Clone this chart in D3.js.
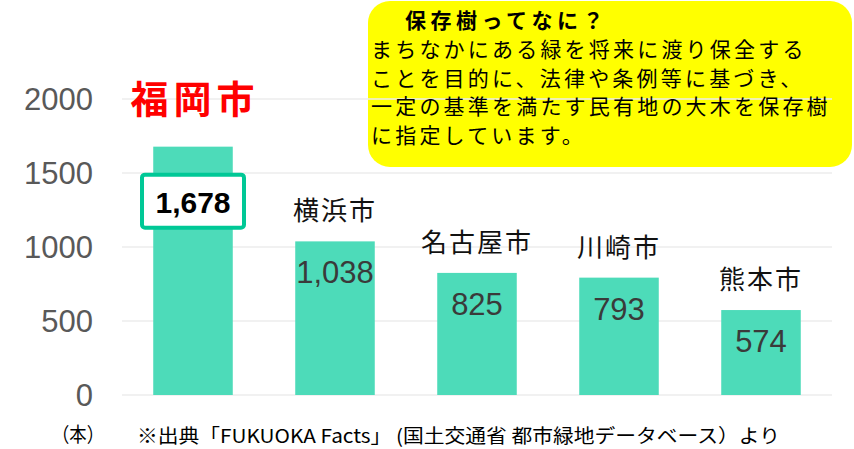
<!DOCTYPE html>
<html>
<head>
<meta charset="utf-8">
<script src="https://cdn.jsdelivr.net/npm/d3@7"></script>
<style>
  body { margin: 0; background: #fff; }
  svg { display: block; }
</style>
</head>
<body>
<div id="chart"></div>
<script>
// data
var cities = ["福岡市", "横浜市", "名古屋市", "川崎市", "熊本市"];
var trees  = [1678, 1038, 825, 793, 574];
var yTicks = [0, 500, 1000, 1500, 2000];
var noteTitle = "保存樹ってなに？";
var noteLines = [
  "まちなかにある緑を将来に渡り保全する",
  "ことを目的に、法律や条例等に基づき、",
  "一定の基準を満たす民有地の大木を保存樹",
  "に指定しています。"
];
var unitLabel = "（本）";
var sourceText = "※出典「FUKUOKA  Facts」 (国土交通省  都市緑地データベース）より";

var width = 854, height = 449;
var jp = "'Noto Sans CJK JP', sans-serif",
    num = "'Liberation Sans', Arial, sans-serif";

var svg = d3.select("#chart").append("svg")
    .attr("width", width)
    .attr("height", height);

var x = d3.scaleBand()
    .domain(cities)
    .range([122, 832])
    .paddingInner(0.44)
    .paddingOuter(0.22);

var y = d3.scaleLinear()
    .domain([0, 2000])
    .range([395, 99]);

// yellow callout sits behind the grid
svg.append("rect")
    .attr("x", 368).attr("y", 1)
    .attr("width", 484).attr("height", 166)
    .attr("rx", 22)
    .attr("fill", "#ffff00");

// grid lines
svg.append("g").selectAll("line")
    .data(yTicks).enter()
    .append("line")
    .attr("x1", 122).attr("x2", 832)
    .attr("y1", d => y(d)).attr("y2", d => y(d))
    .attr("stroke", "#ececec")
    .attr("stroke-width", 1.5);

// tick labels
svg.append("g").selectAll("text")
    .data(yTicks).enter()
    .append("text")
    .attr("x", 93)
    .attr("y", d => y(d) + 11)
    .attr("text-anchor", "end")
    .attr("font-family", num)
    .attr("font-size", 31)
    .attr("fill", "#595959")
    .text(d => d);

// bars
svg.append("g").selectAll("rect")
    .data(trees).enter()
    .append("rect")
    .attr("x", (d, i) => x(cities[i]))
    .attr("y", d => y(d))
    .attr("width", x.bandwidth())
    .attr("height", d => y(0) - y(d))
    .attr("fill", "#4ddbb9");

// value labels inside bars (not Fukuoka, it gets a box)
svg.append("g").selectAll("text")
    .data(trees.slice(1)).enter()
    .append("text")
    .attr("x", (d, i) => x(cities[i + 1]) + x.bandwidth() / 2)
    .attr("y", d => y(d) + 42)
    .attr("text-anchor", "middle")
    .attr("font-family", num)
    .attr("font-size", 31)
    .attr("fill", "#3a3a3a")
    .text(d => d3.format(",")(d));

// city names above bars
svg.append("g").selectAll("text")
    .data(trees.slice(1)).enter()
    .append("text")
    .attr("x", (d, i) => x(cities[i + 1]) + x.bandwidth() / 2)
    .attr("y", d => y(d) - 21)
    .attr("text-anchor", "middle")
    .attr("font-family", jp)
    .attr("font-size", 26)
    .attr("letter-spacing", 2)
    .attr("fill", "#111")
    .text((d, i) => cities[i + 1]);

// Fukuoka highlight
var fx = x(cities[0]) + x.bandwidth() / 2;

svg.append("text")
    .attr("x", fx + 2)
    .attr("y", y(trees[0]) - 34)
    .attr("text-anchor", "middle")
    .attr("font-family", jp)
    .attr("font-weight", "bold")
    .attr("font-size", 38)
    .attr("letter-spacing", 5)
    .attr("fill", "#ff0000")
    .text(cities[0]);

svg.append("rect")
    .attr("x", fx - 51).attr("y", y(trees[0]) + 28)
    .attr("width", 102).attr("height", 53)
    .attr("rx", 3)
    .attr("fill", "#fff")
    .attr("stroke", "#00c896")
    .attr("stroke-width", 4);

svg.append("text")
    .attr("x", fx)
    .attr("y", y(trees[0]) + 66)
    .attr("text-anchor", "middle")
    .attr("font-family", num)
    .attr("font-weight", "bold")
    .attr("font-size", 30)
    .attr("fill", "#000")
    .text(d3.format(",")(trees[0]));

// callout text
svg.append("text")
    .attr("x", 405).attr("y", 28)
    .attr("font-family", jp)
    .attr("font-weight", "bold")
    .attr("font-size", 21)
    .attr("letter-spacing", 4.5)
    .attr("fill", "#000")
    .text(noteTitle);

svg.append("g").selectAll("text")
    .data(noteLines).enter()
    .append("text")
    .attr("x", 371)
    .attr("y", (d, i) => 57 + i * 28.5)
    .attr("font-family", jp)
    .attr("font-size", 21)
    .attr("letter-spacing", 3.2)
    .attr("fill", "#000")
    .text(d => d);

// footer
svg.append("text")
    .attr("x", 78).attr("y", 442)
    .attr("text-anchor", "middle")
    .attr("font-family", jp)
    .attr("font-size", 20)
    .attr("textLength", 52)
    .attr("lengthAdjust", "spacingAndGlyphs")
    .attr("fill", "#000")
    .text(unitLabel);

svg.append("text")
    .attr("x", 137).attr("y", 443)
    .attr("font-family", jp)
    .attr("font-size", 19)
    .attr("textLength", 643)
    .attr("lengthAdjust", "spacingAndGlyphs")
    .attr("fill", "#000")
    .text(sourceText);
</script>
</body>
</html>
